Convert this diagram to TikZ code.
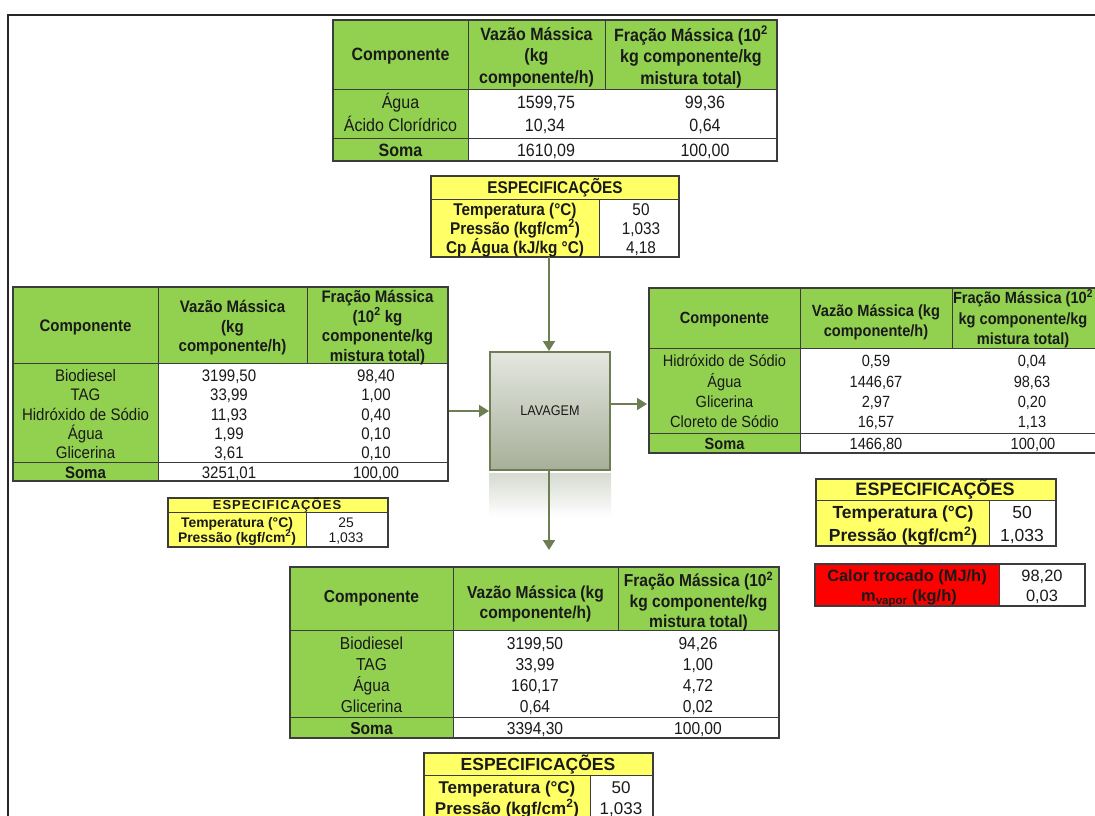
\documentclass[tikz,border=0pt]{standalone}
\usepackage{fontspec}
\setmainfont{Liberation Sans}
\newfontfamily\nfont[FakeStretch=0.9]{Liberation Sans}
\newfontfamily\wfont[LetterSpace=8]{Liberation Sans}
\usetikzlibrary{arrows.meta}
\definecolor{leaf}{HTML}{92D050}
\definecolor{lemon}{HTML}{FFFF66}
\definecolor{alarm}{HTML}{FF0000}
\definecolor{ink}{HTML}{1A1A1A}
\definecolor{rulegray}{HTML}{3C3C3C}
\definecolor{olive}{HTML}{6D7F52}
\definecolor{boxtop}{HTML}{E4E7E0}
\definecolor{boxbot}{HTML}{A7AF99}
\definecolor{refl}{HTML}{D6DAD1}

% grid of a composition table: x0 x1 x2 x3 y0 (header end) (sum line) y4
\newcommand\gridtable[8]{%
  \fill[leaf] (#1,#5) rectangle (#4,#6);
  \fill[leaf] (#1,#6) rectangle (#2,#8);
  \fill[white] (#2,#6) rectangle (#4,#8);
  \draw[rulegray, line width=0.9pt] (#1,#6) -- (#4,#6) (#1,#7) -- (#4,#7)
        (#2,#5) -- (#2,#8) (#3,#5) -- (#3,#6);
  \draw[rulegray, line width=1.1pt] (#1,#5) rectangle (#4,#8);
}
% grid of a specification table: x0 x1 x2 y0 (title end) y3 fill
\newcommand\spectable[7]{%
  \fill[#7] (#1,#4) rectangle (#3,#5);
  \fill[#7] (#1,#5) rectangle (#2,#6);
  \fill[white] (#2,#5) rectangle (#3,#6);
  \draw[rulegray, line width=0.9pt] (#1,#5) -- (#3,#5) (#2,#5) -- (#2,#6);
  \draw[rulegray, line width=1.1pt] (#1,#4) rectangle (#3,#6);
}

\tikzset{
  cellR/.style={inner sep=0pt, text=ink, anchor=base, yshift={-0.36*#1pt},
    font=\nfont\fontsize{#1}{#1}\selectfont},
  cellB/.style={cellR=#1, font=\nfont\bfseries\fontsize{#1}{#1}\selectfont},
  specR/.style={inner sep=0pt, text=ink, anchor=base, yshift={-0.36*#1pt},
    font=\fontsize{#1}{#1}\selectfont},
  specB/.style={specR=#1, font=\bfseries\fontsize{#1}{#1}\selectfont},
  headB/.style 2 args={inner sep=0pt, text=ink, align=center,
    font=\nfont\bfseries\fontsize{#1}{#2}\selectfont},
  flow/.style={draw=olive, line width=2pt,
    -{Triangle[length=10pt, width=12pt]}},
}

\begin{document}
\begin{tikzpicture}[x=1pt, y=-1pt]
\useasboundingbox (0,0) rectangle (1095,816);
\fill[white] (0,0) rectangle (1095,816);

% outer frame
\draw[black!85, line width=1.8pt] (8,900) -- (8,15) -- (1200,15);

% ---------- washing water feed (top) ----------
\gridtable{333}{468}{605}{777}{20}{89}{138}{161}
\node[headB={17.8}{21.5}] (tH1) at (400.5,56) {Componente};
\node[headB={17.8}{21.5}] (tH2) at (536.5,57) {Vazão Mássica\\(kg\\componente/h)};
\node[headB={17.8}{21.5}] (tH3) at (691,57) {Fração Mássica (10\textsuperscript{2}\\kg componente/kg\\mistura total)};
\node[cellR=17.8] (tA1) at (400.5,102) {Água};
\node[cellR=17.8] (tA2) at (546,102) {1599,75};
\node[cellR=17.8] (tA3) at (705,102) {99,36};
\node[cellR=17.8] (tB1) at (400.5,125) {Ácido Clorídrico};
\node[cellR=17.8] (tB2) at (545,125) {10,34};
\node[cellR=17.8] (tB3) at (705,125) {0,64};
\node[cellB=17.8] (tS1) at (400.5,150) {Soma};
\node[cellR=17.8] (tS2) at (546,150) {1610,09};
\node[cellR=17.8] (tS3) at (705,150) {100,00};

\spectable{431}{599}{679}{176}{199}{257}{lemon}
\node[cellB=17] (tsT) at (555,187.5) {ESPECIFICAÇÕES};
\node[cellB=17] (tsA1) at (515,209) {Temperatura (°C)};
\node[cellR=17] (tsA2) at (641,209) {50};
\node[cellB=17] (tsB1) at (515,228) {Pressão (kgf/cm\textsuperscript{2})};
\node[cellR=17] (tsB2) at (641,228) {1,033};
\node[cellB=17] (tsC1) at (515,247) {Cp Água (kJ/kg °C)};
\node[cellR=17] (tsC2) at (641,247) {4,18};

% ---------- biodiesel feed (left) ----------
\gridtable{13}{158}{307}{448}{287}{363}{462}{481}
\node[headB={16.7}{19.5}] (lH1) at (85.5,327) {Componente};
\node[headB={16.7}{19.5}] (lH2) at (232.5,328) {Vazão Mássica\\(kg\\componente/h)};
\node[headB={16.7}{19.5}] (lH3) at (377.5,327.5) {Fração Mássica\\(10\textsuperscript{2} kg\\componente/kg\\mistura total)};
\node[cellR=16.7] (lA1) at (85.5,375) {Biodiesel};
\node[cellR=16.7] (lA2) at (229,375) {3199,50};
\node[cellR=16.7] (lA3) at (376,375) {98,40};
\node[cellR=16.7] (lB1) at (85.5,394) {TAG};
\node[cellR=16.7] (lB2) at (229,394) {33,99};
\node[cellR=16.7] (lB3) at (376,394) {1,00};
\node[cellR=16.7] (lC1) at (85.5,414) {Hidróxido de Sódio};
\node[cellR=16.7] (lC2) at (229,414) {11,93};
\node[cellR=16.7] (lC3) at (376,414) {0,40};
\node[cellR=16.7] (lD1) at (85.5,433) {Água};
\node[cellR=16.7] (lD2) at (229,433) {1,99};
\node[cellR=16.7] (lD3) at (376,433) {0,10};
\node[cellR=16.7] (lE1) at (85.5,452) {Glicerina};
\node[cellR=16.7] (lE2) at (229,452) {3,61};
\node[cellR=16.7] (lE3) at (376,452) {0,10};
\node[cellB=16.7] (lS1) at (85.5,472) {Soma};
\node[cellR=16.7] (lS2) at (229,472) {3251,01};
\node[cellR=16.7] (lS3) at (376,472) {100,00};

\spectable{168}{306}{388}{498}{512}{547}{lemon}
\node[inner sep=0pt, text=ink, anchor=base, yshift=-4.7pt,
      font=\wfont\bfseries\fontsize{13}{13}\selectfont] (lsT) at (277,505) {ESPECIFICAÇÕES};
\node[specB=13.9] (lsA1) at (237,522) {Temperatura (°C)};
\node[specR=13.9] (lsA2) at (346,522) {25};
\node[specB=13.9] (lsB1) at (237,537) {Pressão (kgf/cm\textsuperscript{2})};
\node[specR=13.9] (lsB2) at (346,537) {1,033};

% ---------- aqueous outlet (right) ----------
\gridtable{649}{800}{952}{1100}{288}{348}{433}{453}
\node[headB={16.2}{20}] (rH1) at (724.5,320) {Componente};
\node[headB={16.2}{20}] (rH2) at (876,322.5) {Vazão Mássica (kg\\componente/h)};
\node[headB={16.2}{20.5}] (rH3) at (1023,319) {Fração Mássica (10\textsuperscript{2}\\kg componente/kg\\mistura total)};
\node[cellR=16.2] (rA1) at (724.5,361) {Hidróxido de Sódio};
\node[cellR=16.2] (rA2) at (876,361) {0,59};
\node[cellR=16.2] (rA3) at (1032,361) {0,04};
\node[cellR=16.2] (rB1) at (724.5,382) {Água};
\node[cellR=16.2] (rB2) at (876,382) {1446,67};
\node[cellR=16.2] (rB3) at (1032,382) {98,63};
\node[cellR=16.2] (rC1) at (724.5,402) {Glicerina};
\node[cellR=16.2] (rC2) at (876,402) {2,97};
\node[cellR=16.2] (rC3) at (1032,402) {0,20};
\node[cellR=16.2] (rD1) at (724.5,422) {Cloreto de Sódio};
\node[cellR=16.2] (rD2) at (876,422) {16,57};
\node[cellR=16.2] (rD3) at (1032,422) {1,13};
\node[cellB=16.2] (rS1) at (724.5,444) {Soma};
\node[cellR=16.2] (rS2) at (876,444) {1466,80};
\node[cellR=16.2] (rS3) at (1033,444) {100,00};

\spectable{816}{989}{1056}{479}{500}{546}{lemon}
\node[specB=18] (rsT) at (935,489.5) {ESPECIFICAÇÕES};
\node[specB=17.5] (rsA1) at (903,512) {Temperatura (°C)};
\node[specR=17.5] (rsA2) at (1022,512) {50};
\node[specB=17.5] (rsB1) at (903,535) {Pressão (kgf/cm\textsuperscript{2})};
\node[specR=17.5] (rsB2) at (1022,535) {1,033};

% heat duty
\fill[alarm] (815,564) rectangle (999,606);
\fill[white] (999,564) rectangle (1085,606);
\draw[rulegray, line width=0.9pt] (999,564) -- (999,606);
\draw[rulegray, line width=1.1pt] (815,564) rectangle (1085,606);
\node[specB=16.4] (qA1) at (907,576) {Calor trocado (MJ/h)};
\node[specR=16.4] (qA2) at (1042,576) {98,20};
\node[specB=16.4] (qB1) at (909,596) {m\textsubscript{vapor} (kg/h)};
\node[specR=16.4] (qB2) at (1042,596) {0,03};

% ---------- washed biodiesel (bottom) ----------
\gridtable{290}{453}{618}{779}{567}{630}{717}{738}
\node[headB={17.3}{20}] (bH1) at (371.5,598.5) {Componente};
\node[headB={17.3}{20}] (bH2) at (535.5,604) {Vazão Mássica (kg\\componente/h)};
\node[headB={17.3}{20.5}] (bH3) at (698.5,601.5) {Fração Mássica (10\textsuperscript{2}\\kg componente/kg\\mistura total)};
\node[cellR=17.3] (bA1) at (371.5,643) {Biodiesel};
\node[cellR=17.3] (bA2) at (535,643) {3199,50};
\node[cellR=17.3] (bA3) at (698,643) {94,26};
\node[cellR=17.3] (bB1) at (371.5,664) {TAG};
\node[cellR=17.3] (bB2) at (535,664) {33,99};
\node[cellR=17.3] (bB3) at (698,664) {1,00};
\node[cellR=17.3] (bC1) at (371.5,685) {Água};
\node[cellR=17.3] (bC2) at (535,685) {160,17};
\node[cellR=17.3] (bC3) at (698,685) {4,72};
\node[cellR=17.3] (bD1) at (371.5,706) {Glicerina};
\node[cellR=17.3] (bD2) at (535,706) {0,64};
\node[cellR=17.3] (bD3) at (698,706) {0,02};
\node[cellB=17.3] (bS1) at (371.5,728) {Soma};
\node[cellR=17.3] (bS2) at (535,728) {3394,30};
\node[cellR=17.3] (bS3) at (698,728) {100,00};

\spectable{424}{590}{653}{753}{775}{840}{lemon}
\node[specB=17.5] (bsT) at (538,764) {ESPECIFICAÇÕES};
\node[specB=17] (bsA1) at (507,787) {Temperatura (°C)};
\node[specR=17] (bsA2) at (621,787) {50};
\node[specB=17] (bsB1) at (507,808) {Pressão (kgf/cm\textsuperscript{2})};
\node[specR=17] (bsB2) at (621,808) {1,033};

% ---------- washing unit ----------
\shade[top color=refl, bottom color=white] (489,473) rectangle (611,517);
\node[draw=olive, line width=2pt, top color=boxtop, bottom color=boxbot,
      minimum width=120pt, minimum height=118pt, inner sep=0pt, text=ink,
      font=\nfont\fontsize{14}{14}\selectfont] (lav) at (550,411) {LAVAGEM};

% streams
\coordinate (inTop) at (549,257);
\coordinate (inLeft) at (449,411);
\coordinate (outRight) at (647,404);
\coordinate (outBot) at (549,550);
\draw[flow] (inTop) -- (inTop |- lav.north);
\draw[flow] (inLeft) -- (lav.west);
\draw[flow] (lav.east |- outRight) -- (outRight);
\draw[flow] (lav.south -| outBot) -- (outBot);
\end{tikzpicture}
\end{document}
